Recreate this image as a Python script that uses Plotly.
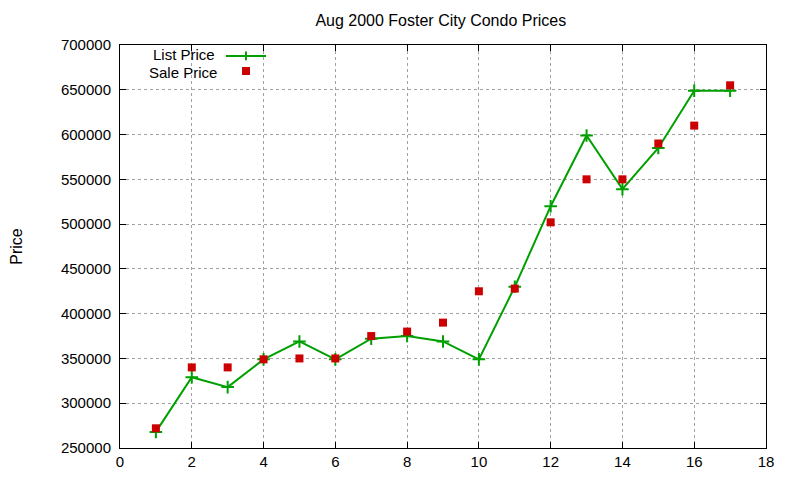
import plotly.graph_objects as go

x_vals = list(range(1, 18))
list_price = [268000, 329000, 318000, 349000, 369000, 349000, 372000, 375000, 369000,
              349000, 430000, 520000, 599000, 539000, 585000, 649000, 649000]
sale_price = [272000, 340000, 340000, 349000, 350000, 350000, 375000, 380000, 390000,
              425000, 428000, 502000, 550000, 550000, 590000, 610000, 655000]
x_ticks = list(range(0, 19, 2))
y_ticks = list(range(250000, 700001, 50000))

GREEN = "#00a000"
RED = "#cc0000"
FONT = "Liberation Sans"

fig = go.Figure()
fig.add_trace(go.Scatter(
    x=x_vals, y=list_price, mode="lines+markers", name="List Price",
    line=dict(color=GREEN, width=2),
    marker=dict(symbol="cross-thin-open", size=9, line=dict(color=GREEN, width=2)),
    showlegend=False))
fig.add_trace(go.Scatter(
    x=x_vals, y=sale_price, mode="markers", name="Sale Price",
    marker=dict(symbol="square", size=8, color=RED, line=dict(width=0)),
    showlegend=False))

axis_common = dict(
    showline=True, linecolor="black", linewidth=1, mirror="ticks",
    ticks="inside", ticklen=6, tickcolor="black", automargin=False,
    showgrid=True, gridcolor="#a0a0a0", griddash="dot", gridwidth=1,
    zeroline=False, tickfont=dict(family=FONT, size=15, color="black"))

fig.update_xaxes(range=[0, 18], tickvals=x_ticks, ticktext=[str(v) for v in x_ticks], **axis_common)
fig.update_yaxes(range=[250000, 700000], tickvals=y_ticks, ticktext=[str(v) for v in y_ticks],
                 ticklabelstandoff=5,
                 title=dict(text="Price", font=dict(family=FONT, size=16, color="black"), standoff=41),
                 **axis_common)

# gnuplot-style legend (text right-aligned, sample to the right)
fig.add_annotation(xref="paper", yref="paper", x=0.1486, y=0.9752, text="List Price",
                   showarrow=False, xanchor="right", yanchor="middle", borderpad=0,
                   font=dict(family=FONT, size=15, color="black"))
fig.add_annotation(xref="paper", yref="paper", x=0.1517, y=0.9330, text="Sale Price",
                   showarrow=False, xanchor="right", yanchor="middle", borderpad=0,
                   font=dict(family=FONT, size=15, color="black"))
fig.add_shape(type="line", xref="paper", yref="paper", x0=0.164, x1=0.226, y0=0.9727, y1=0.9727,
              line=dict(color=GREEN, width=2))
fig.add_shape(type="line", xref="paper", yref="paper", x0=0.195, x1=0.195, y0=0.962, y1=0.984,
              line=dict(color=GREEN, width=2))
fig.add_shape(type="rect", xref="paper", yref="paper", x0=0.1889, x1=0.2012, y0=0.9256, y1=0.9454,
              line=dict(width=0), fillcolor=RED)

fig.update_layout(
    width=800, height=480,
    margin=dict(l=112, r=42, t=37, b=40, autoexpand=False),
    paper_bgcolor="white", plot_bgcolor="white",
    title=dict(text="Aug 2000 Foster City Condo Prices", x=0.541, xanchor="center", y=0.975,
               yanchor="middle", font=dict(family=FONT, size=16, color="black")),
    font=dict(family=FONT, size=16, color="black"),
)

fig.write_html("out.html")
